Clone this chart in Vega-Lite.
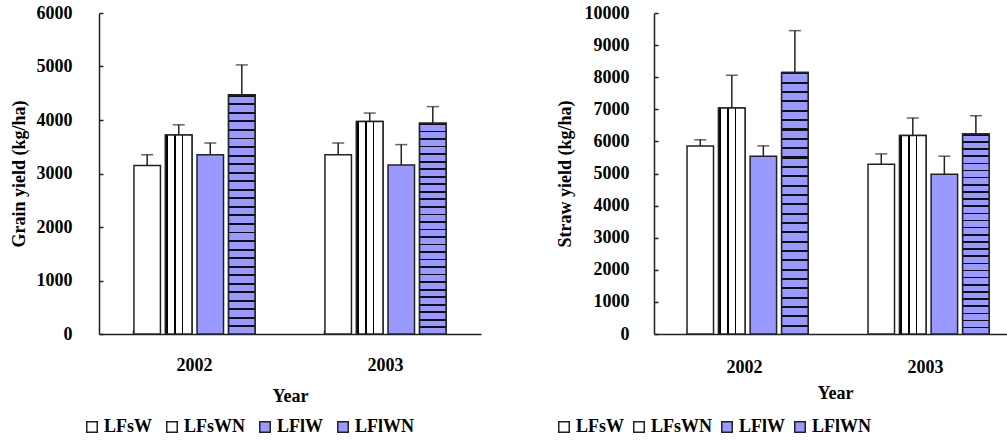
{
  "$schema": "https://vega.github.io/schema/vega-lite/v6.json",
  "padding": {"left": 10, "top": 4, "right": 0, "bottom": 0},
  "background": "white",
  "config": {
    "font": "Liberation Serif",
    "view": {"stroke": null},
    "axis": {
      "labelFont": "Liberation Serif", "titleFont": "Liberation Serif",
      "labelFontSize": 18, "titleFontSize": 18, "labelColor": "#000", "titleColor": "#000",
      "labelFontWeight": "bold", "titleFontWeight": "bold", "domainColor": "#222", "domainWidth": 1.5,
      "tickColor": "#222", "tickWidth": 1.5, "grid": false, "labelOverlap": false, "format": "d"
    },
    "legend": {
      "labelFont": "Liberation Serif", "labelFontSize": 18, "labelColor": "#000", "labelFontWeight": "bold"
    }
  },
  "datasets": {
    "grain": [
      {"year": "2002", "series": "LFsW", "value": 3150, "err": 3350},
      {"year": "2002", "series": "LFsWN", "value": 3720, "err": 3910},
      {"year": "2002", "series": "LFlW", "value": 3350, "err": 3570},
      {"year": "2002", "series": "LFlWN", "value": 4470, "err": 5030},
      {"year": "2003", "series": "LFsW", "value": 3350, "err": 3570},
      {"year": "2003", "series": "LFsWN", "value": 3970, "err": 4130},
      {"year": "2003", "series": "LFlW", "value": 3160, "err": 3540},
      {"year": "2003", "series": "LFlWN", "value": 3940, "err": 4250}
    ],
    "straw": [
      {"year": "2002", "series": "LFsW", "value": 5860, "err": 6050},
      {"year": "2002", "series": "LFsWN", "value": 7040, "err": 8060},
      {"year": "2002", "series": "LFlW", "value": 5540, "err": 5860},
      {"year": "2002", "series": "LFlWN", "value": 8150, "err": 9450},
      {"year": "2003", "series": "LFsW", "value": 5290, "err": 5610},
      {"year": "2003", "series": "LFsWN", "value": 6180, "err": 6730},
      {"year": "2003", "series": "LFlW", "value": 4980, "err": 5540},
      {"year": "2003", "series": "LFlWN", "value": 6230, "err": 6800}
    ]
  },
  "spacing": 74,
  "resolve": {"scale": {"color": "independent"}, "legend": {"color": "independent"}},
  "hconcat": [
    {
      "width": 382, "height": 321,
      "data": {"name": "grain"},
      "encoding": {
        "x": {"field": "year", "type": "nominal", "scale": {"paddingInner": 0.366, "paddingOuter": 0.183},
              "axis": {"title": "Year", "labelAngle": 0, "bandPosition": 0, "ticks": true, "tickSize": -4, "labelPadding": 26, "titlePadding": 13}},
        "xOffset": {"field": "series", "type": "nominal", "sort": ["LFsW", "LFsWN", "LFlW", "LFlWN"], "scale": {"domain": ["LFsW", "LFsWN", "LFlW", "LFlWN"], "paddingInner": 0.16, "paddingOuter": 0}}
      },
      "layer": [
        {
          "mark": {"type": "bar", "stroke": "#222", "strokeWidth": 1.5},
          "encoding": {
            "y": {"field": "value", "type": "quantitative", "title": "Grain yield (kg/ha)", "scale": {"domain": [0, 6000]},
                  "axis": {"values": [0, 1000, 2000, 3000, 4000, 5000, 6000], "labelOverlap": false, "tickSize": -4, "labelPadding": 31, "titlePadding": 8}},
            "color": {"field": "series", "type": "nominal", "scale": {"domain": ["LFsW", "LFsWN", "LFlW", "LFlWN"], "range": ["#ffffff", "#ffffff", "#9999ff", "#9999ff"]},
                      "legend": {"title": null, "orient": "none", "legendX": -16, "legendY": 405, "direction": "horizontal", "columns": 4,
                                 "symbolType": "square", "symbolSize": 110, "symbolStrokeColor": "#222", "symbolStrokeWidth": 1.5, "symbolOpacity": 1,
                                 "labelOffset": 3, "columnPadding": 10}}
          }
        },
        {
          "transform": [{"filter": "datum.series === 'LFsWN'"}],
          "mark": {"type": "bar", "stroke": "#222", "strokeWidth": 1.5,
            "fill": {"gradient": "linear", "x1": 0, "y1": 0, "x2": 1, "y2": 0, "stops": [
              {"offset": 0, "color": "#000"}, {"offset": 0.09, "color": "#000"}, {"offset": 0.09, "color": "#fff"}, {"offset": 0.33, "color": "#fff"},
              {"offset": 0.33, "color": "#000"}, {"offset": 0.38, "color": "#000"}, {"offset": 0.38, "color": "#fff"}, {"offset": 0.62, "color": "#fff"},
              {"offset": 0.62, "color": "#000"}, {"offset": 0.67, "color": "#000"}, {"offset": 0.67, "color": "#fff"}, {"offset": 1, "color": "#fff"}]}},
          "encoding": {"y": {"field": "value", "type": "quantitative", "title": "Grain yield (kg/ha)",
                             "axis": {"values": [0, 1000, 2000, 3000, 4000, 5000, 6000], "labelOverlap": false, "tickSize": -4, "labelPadding": 31, "titlePadding": 8}}}
        },
        {
          "transform": [{"filter": "datum.series === 'LFlWN'"}],
          "mark": {"type": "bar", "stroke": "#222", "strokeWidth": 1.5,
            "fill": {"gradient": "linear", "x1": 0, "y1": 0, "x2": 0, "y2": 1, "stops": [
              {"offset": 0, "color": "#111"}, {"offset": 0.008, "color": "#111"}, {"offset": 0.008, "color": "#9999ff"}, {"offset": 0.0357, "color": "#9999ff"},
              {"offset": 0.0357, "color": "#111"}, {"offset": 0.0437, "color": "#111"}, {"offset": 0.0437, "color": "#9999ff"}, {"offset": 0.0714, "color": "#9999ff"},
              {"offset": 0.0714, "color": "#111"}, {"offset": 0.0794, "color": "#111"}, {"offset": 0.0794, "color": "#9999ff"}, {"offset": 0.1071, "color": "#9999ff"},
              {"offset": 0.1071, "color": "#111"}, {"offset": 0.1151, "color": "#111"}, {"offset": 0.1151, "color": "#9999ff"}, {"offset": 0.1429, "color": "#9999ff"},
              {"offset": 0.1429, "color": "#111"}, {"offset": 0.1509, "color": "#111"}, {"offset": 0.1509, "color": "#9999ff"}, {"offset": 0.1786, "color": "#9999ff"},
              {"offset": 0.1786, "color": "#111"}, {"offset": 0.1866, "color": "#111"}, {"offset": 0.1866, "color": "#9999ff"}, {"offset": 0.2143, "color": "#9999ff"},
              {"offset": 0.2143, "color": "#111"}, {"offset": 0.2223, "color": "#111"}, {"offset": 0.2223, "color": "#9999ff"}, {"offset": 0.25, "color": "#9999ff"},
              {"offset": 0.25, "color": "#111"}, {"offset": 0.258, "color": "#111"}, {"offset": 0.258, "color": "#9999ff"}, {"offset": 0.2857, "color": "#9999ff"},
              {"offset": 0.2857, "color": "#111"}, {"offset": 0.2937, "color": "#111"}, {"offset": 0.2937, "color": "#9999ff"}, {"offset": 0.3214, "color": "#9999ff"},
              {"offset": 0.3214, "color": "#111"}, {"offset": 0.3294, "color": "#111"}, {"offset": 0.3294, "color": "#9999ff"}, {"offset": 0.3571, "color": "#9999ff"},
              {"offset": 0.3571, "color": "#111"}, {"offset": 0.3651, "color": "#111"}, {"offset": 0.3651, "color": "#9999ff"}, {"offset": 0.3929, "color": "#9999ff"},
              {"offset": 0.3929, "color": "#111"}, {"offset": 0.4009, "color": "#111"}, {"offset": 0.4009, "color": "#9999ff"}, {"offset": 0.4286, "color": "#9999ff"},
              {"offset": 0.4286, "color": "#111"}, {"offset": 0.4366, "color": "#111"}, {"offset": 0.4366, "color": "#9999ff"}, {"offset": 0.4643, "color": "#9999ff"},
              {"offset": 0.4643, "color": "#111"}, {"offset": 0.4723, "color": "#111"}, {"offset": 0.4723, "color": "#9999ff"}, {"offset": 0.5, "color": "#9999ff"},
              {"offset": 0.5, "color": "#111"}, {"offset": 0.508, "color": "#111"}, {"offset": 0.508, "color": "#9999ff"}, {"offset": 0.5357, "color": "#9999ff"},
              {"offset": 0.5357, "color": "#111"}, {"offset": 0.5437, "color": "#111"}, {"offset": 0.5437, "color": "#9999ff"}, {"offset": 0.5714, "color": "#9999ff"},
              {"offset": 0.5714, "color": "#111"}, {"offset": 0.5794, "color": "#111"}, {"offset": 0.5794, "color": "#9999ff"}, {"offset": 0.6071, "color": "#9999ff"},
              {"offset": 0.6071, "color": "#111"}, {"offset": 0.6151, "color": "#111"}, {"offset": 0.6151, "color": "#9999ff"}, {"offset": 0.6429, "color": "#9999ff"},
              {"offset": 0.6429, "color": "#111"}, {"offset": 0.6509, "color": "#111"}, {"offset": 0.6509, "color": "#9999ff"}, {"offset": 0.6786, "color": "#9999ff"},
              {"offset": 0.6786, "color": "#111"}, {"offset": 0.6866, "color": "#111"}, {"offset": 0.6866, "color": "#9999ff"}, {"offset": 0.7143, "color": "#9999ff"},
              {"offset": 0.7143, "color": "#111"}, {"offset": 0.7223, "color": "#111"}, {"offset": 0.7223, "color": "#9999ff"}, {"offset": 0.75, "color": "#9999ff"},
              {"offset": 0.75, "color": "#111"}, {"offset": 0.758, "color": "#111"}, {"offset": 0.758, "color": "#9999ff"}, {"offset": 0.7857, "color": "#9999ff"},
              {"offset": 0.7857, "color": "#111"}, {"offset": 0.7937, "color": "#111"}, {"offset": 0.7937, "color": "#9999ff"}, {"offset": 0.8214, "color": "#9999ff"},
              {"offset": 0.8214, "color": "#111"}, {"offset": 0.8294, "color": "#111"}, {"offset": 0.8294, "color": "#9999ff"}, {"offset": 0.8571, "color": "#9999ff"},
              {"offset": 0.8571, "color": "#111"}, {"offset": 0.8651, "color": "#111"}, {"offset": 0.8651, "color": "#9999ff"}, {"offset": 0.8929, "color": "#9999ff"},
              {"offset": 0.8929, "color": "#111"}, {"offset": 0.9009, "color": "#111"}, {"offset": 0.9009, "color": "#9999ff"}, {"offset": 0.9286, "color": "#9999ff"},
              {"offset": 0.9286, "color": "#111"}, {"offset": 0.9366, "color": "#111"}, {"offset": 0.9366, "color": "#9999ff"}, {"offset": 0.9643, "color": "#9999ff"},
              {"offset": 0.9643, "color": "#111"}, {"offset": 0.9723, "color": "#111"}, {"offset": 0.9723, "color": "#9999ff"}, {"offset": 1, "color": "#9999ff"}]}},
          "encoding": {"y": {"field": "value", "type": "quantitative", "title": "Grain yield (kg/ha)",
                             "axis": {"values": [0, 1000, 2000, 3000, 4000, 5000, 6000], "labelOverlap": false, "tickSize": -4, "labelPadding": 31, "titlePadding": 8}}}
        },
        {
          "mark": {"type": "rule", "color": "#222", "strokeWidth": 1.5},
          "encoding": {"y": {"field": "value", "type": "quantitative", "title": "Grain yield (kg/ha)",
                             "axis": {"values": [0, 1000, 2000, 3000, 4000, 5000, 6000], "labelOverlap": false, "tickSize": -4, "labelPadding": 31, "titlePadding": 8}},
                       "y2": {"field": "err"}}
        },
        {
          "mark": {"type": "tick", "color": "#222", "thickness": 1.5, "size": 12},
          "encoding": {"y": {"field": "err", "type": "quantitative", "title": "Grain yield (kg/ha)",
                             "axis": {"values": [0, 1000, 2000, 3000, 4000, 5000, 6000], "labelOverlap": false, "tickSize": -4, "labelPadding": 31, "titlePadding": 8}}}
        }
      ]
    },
    {
      "width": 362, "height": 321,
      "data": {"name": "straw"},
      "encoding": {
        "x": {"field": "year", "type": "nominal", "scale": {"paddingInner": 0.365, "paddingOuter": 0.1825},
              "axis": {"title": "Year", "labelAngle": 0, "bandPosition": 0, "ticks": true, "tickSize": -4, "labelPadding": 28, "titlePadding": 8}},
        "xOffset": {"field": "series", "type": "nominal", "sort": ["LFsW", "LFsWN", "LFlW", "LFlWN"], "scale": {"domain": ["LFsW", "LFsWN", "LFlW", "LFlWN"], "paddingInner": 0.16, "paddingOuter": 0}}
      },
      "layer": [
        {
          "mark": {"type": "bar", "stroke": "#222", "strokeWidth": 1.5},
          "encoding": {
            "y": {"field": "value", "type": "quantitative", "title": "Straw yield (kg/ha)", "scale": {"domain": [0, 10000]},
                  "axis": {"values": [0, 1000, 2000, 3000, 4000, 5000, 6000, 7000, 8000, 9000, 10000], "labelOverlap": false, "tickSize": -4, "labelPadding": 29, "titlePadding": 10}},
            "color": {"field": "series", "type": "nominal", "scale": {"domain": ["LFsW", "LFsWN", "LFlW", "LFlWN"], "range": ["#ffffff", "#ffffff", "#9999ff", "#9999ff"]},
                      "legend": {"title": null, "orient": "none", "legendX": -99, "legendY": 405, "direction": "horizontal", "columns": 4,
                                 "symbolType": "square", "symbolSize": 110, "symbolStrokeColor": "#222", "symbolStrokeWidth": 1.5, "symbolOpacity": 1,
                                 "labelOffset": 3, "columnPadding": 5}}
          }
        },
        {
          "transform": [{"filter": "datum.series === 'LFsWN'"}],
          "mark": {"type": "bar", "stroke": "#222", "strokeWidth": 1.5,
            "fill": {"gradient": "linear", "x1": 0, "y1": 0, "x2": 1, "y2": 0, "stops": [
              {"offset": 0, "color": "#000"}, {"offset": 0.09, "color": "#000"}, {"offset": 0.09, "color": "#fff"}, {"offset": 0.33, "color": "#fff"},
              {"offset": 0.33, "color": "#000"}, {"offset": 0.38, "color": "#000"}, {"offset": 0.38, "color": "#fff"}, {"offset": 0.62, "color": "#fff"},
              {"offset": 0.62, "color": "#000"}, {"offset": 0.67, "color": "#000"}, {"offset": 0.67, "color": "#fff"}, {"offset": 1, "color": "#fff"}]}},
          "encoding": {"y": {"field": "value", "type": "quantitative", "title": "Straw yield (kg/ha)",
                             "axis": {"values": [0, 1000, 2000, 3000, 4000, 5000, 6000, 7000, 8000, 9000, 10000], "labelOverlap": false, "tickSize": -4, "labelPadding": 29, "titlePadding": 10}}}
        },
        {
          "transform": [{"filter": "datum.series === 'LFlWN'"}],
          "mark": {"type": "bar", "stroke": "#222", "strokeWidth": 1.5,
            "fill": {"gradient": "linear", "x1": 0, "y1": 0, "x2": 0, "y2": 1, "stops": [
              {"offset": 0, "color": "#111"}, {"offset": 0.008, "color": "#111"}, {"offset": 0.008, "color": "#9999ff"}, {"offset": 0.0357, "color": "#9999ff"},
              {"offset": 0.0357, "color": "#111"}, {"offset": 0.0437, "color": "#111"}, {"offset": 0.0437, "color": "#9999ff"}, {"offset": 0.0714, "color": "#9999ff"},
              {"offset": 0.0714, "color": "#111"}, {"offset": 0.0794, "color": "#111"}, {"offset": 0.0794, "color": "#9999ff"}, {"offset": 0.1071, "color": "#9999ff"},
              {"offset": 0.1071, "color": "#111"}, {"offset": 0.1151, "color": "#111"}, {"offset": 0.1151, "color": "#9999ff"}, {"offset": 0.1429, "color": "#9999ff"},
              {"offset": 0.1429, "color": "#111"}, {"offset": 0.1509, "color": "#111"}, {"offset": 0.1509, "color": "#9999ff"}, {"offset": 0.1786, "color": "#9999ff"},
              {"offset": 0.1786, "color": "#111"}, {"offset": 0.1866, "color": "#111"}, {"offset": 0.1866, "color": "#9999ff"}, {"offset": 0.2143, "color": "#9999ff"},
              {"offset": 0.2143, "color": "#111"}, {"offset": 0.2223, "color": "#111"}, {"offset": 0.2223, "color": "#9999ff"}, {"offset": 0.25, "color": "#9999ff"},
              {"offset": 0.25, "color": "#111"}, {"offset": 0.258, "color": "#111"}, {"offset": 0.258, "color": "#9999ff"}, {"offset": 0.2857, "color": "#9999ff"},
              {"offset": 0.2857, "color": "#111"}, {"offset": 0.2937, "color": "#111"}, {"offset": 0.2937, "color": "#9999ff"}, {"offset": 0.3214, "color": "#9999ff"},
              {"offset": 0.3214, "color": "#111"}, {"offset": 0.3294, "color": "#111"}, {"offset": 0.3294, "color": "#9999ff"}, {"offset": 0.3571, "color": "#9999ff"},
              {"offset": 0.3571, "color": "#111"}, {"offset": 0.3651, "color": "#111"}, {"offset": 0.3651, "color": "#9999ff"}, {"offset": 0.3929, "color": "#9999ff"},
              {"offset": 0.3929, "color": "#111"}, {"offset": 0.4009, "color": "#111"}, {"offset": 0.4009, "color": "#9999ff"}, {"offset": 0.4286, "color": "#9999ff"},
              {"offset": 0.4286, "color": "#111"}, {"offset": 0.4366, "color": "#111"}, {"offset": 0.4366, "color": "#9999ff"}, {"offset": 0.4643, "color": "#9999ff"},
              {"offset": 0.4643, "color": "#111"}, {"offset": 0.4723, "color": "#111"}, {"offset": 0.4723, "color": "#9999ff"}, {"offset": 0.5, "color": "#9999ff"},
              {"offset": 0.5, "color": "#111"}, {"offset": 0.508, "color": "#111"}, {"offset": 0.508, "color": "#9999ff"}, {"offset": 0.5357, "color": "#9999ff"},
              {"offset": 0.5357, "color": "#111"}, {"offset": 0.5437, "color": "#111"}, {"offset": 0.5437, "color": "#9999ff"}, {"offset": 0.5714, "color": "#9999ff"},
              {"offset": 0.5714, "color": "#111"}, {"offset": 0.5794, "color": "#111"}, {"offset": 0.5794, "color": "#9999ff"}, {"offset": 0.6071, "color": "#9999ff"},
              {"offset": 0.6071, "color": "#111"}, {"offset": 0.6151, "color": "#111"}, {"offset": 0.6151, "color": "#9999ff"}, {"offset": 0.6429, "color": "#9999ff"},
              {"offset": 0.6429, "color": "#111"}, {"offset": 0.6509, "color": "#111"}, {"offset": 0.6509, "color": "#9999ff"}, {"offset": 0.6786, "color": "#9999ff"},
              {"offset": 0.6786, "color": "#111"}, {"offset": 0.6866, "color": "#111"}, {"offset": 0.6866, "color": "#9999ff"}, {"offset": 0.7143, "color": "#9999ff"},
              {"offset": 0.7143, "color": "#111"}, {"offset": 0.7223, "color": "#111"}, {"offset": 0.7223, "color": "#9999ff"}, {"offset": 0.75, "color": "#9999ff"},
              {"offset": 0.75, "color": "#111"}, {"offset": 0.758, "color": "#111"}, {"offset": 0.758, "color": "#9999ff"}, {"offset": 0.7857, "color": "#9999ff"},
              {"offset": 0.7857, "color": "#111"}, {"offset": 0.7937, "color": "#111"}, {"offset": 0.7937, "color": "#9999ff"}, {"offset": 0.8214, "color": "#9999ff"},
              {"offset": 0.8214, "color": "#111"}, {"offset": 0.8294, "color": "#111"}, {"offset": 0.8294, "color": "#9999ff"}, {"offset": 0.8571, "color": "#9999ff"},
              {"offset": 0.8571, "color": "#111"}, {"offset": 0.8651, "color": "#111"}, {"offset": 0.8651, "color": "#9999ff"}, {"offset": 0.8929, "color": "#9999ff"},
              {"offset": 0.8929, "color": "#111"}, {"offset": 0.9009, "color": "#111"}, {"offset": 0.9009, "color": "#9999ff"}, {"offset": 0.9286, "color": "#9999ff"},
              {"offset": 0.9286, "color": "#111"}, {"offset": 0.9366, "color": "#111"}, {"offset": 0.9366, "color": "#9999ff"}, {"offset": 0.9643, "color": "#9999ff"},
              {"offset": 0.9643, "color": "#111"}, {"offset": 0.9723, "color": "#111"}, {"offset": 0.9723, "color": "#9999ff"}, {"offset": 1, "color": "#9999ff"}]}},
          "encoding": {"y": {"field": "value", "type": "quantitative", "title": "Straw yield (kg/ha)",
                             "axis": {"values": [0, 1000, 2000, 3000, 4000, 5000, 6000, 7000, 8000, 9000, 10000], "labelOverlap": false, "tickSize": -4, "labelPadding": 29, "titlePadding": 10}}}
        },
        {
          "mark": {"type": "rule", "color": "#222", "strokeWidth": 1.5},
          "encoding": {"y": {"field": "value", "type": "quantitative", "title": "Straw yield (kg/ha)",
                             "axis": {"values": [0, 1000, 2000, 3000, 4000, 5000, 6000, 7000, 8000, 9000, 10000], "labelOverlap": false, "tickSize": -4, "labelPadding": 29, "titlePadding": 10}},
                       "y2": {"field": "err"}}
        },
        {
          "mark": {"type": "tick", "color": "#222", "thickness": 1.5, "size": 12},
          "encoding": {"y": {"field": "err", "type": "quantitative", "title": "Straw yield (kg/ha)",
                             "axis": {"values": [0, 1000, 2000, 3000, 4000, 5000, 6000, 7000, 8000, 9000, 10000], "labelOverlap": false, "tickSize": -4, "labelPadding": 29, "titlePadding": 10}}}
        }
      ]
    }
  ]
}
